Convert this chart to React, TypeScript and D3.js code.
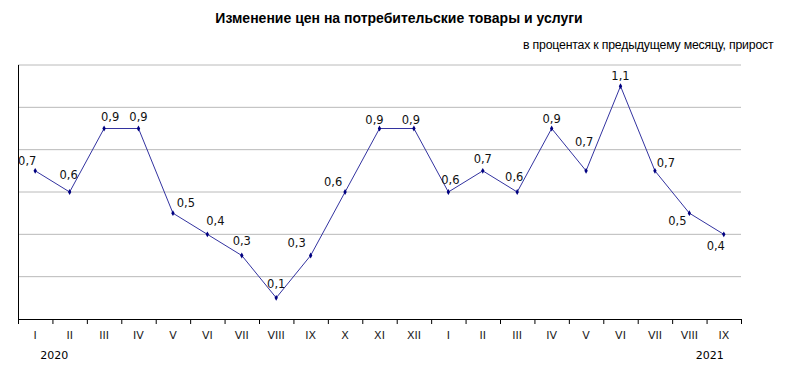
import React from 'react';
import * as d3 from 'd3';

const months = ['I', 'II', 'III', 'IV', 'V', 'VI', 'VII', 'VIII', 'IX', 'X', 'XI', 'XII',
  'I', 'II', 'III', 'IV', 'V', 'VI', 'VII', 'VIII', 'IX'];
const values = [0.7, 0.6, 0.9, 0.9, 0.5, 0.4, 0.3, 0.1, 0.3, 0.6, 0.9, 0.9,
  0.6, 0.7, 0.6, 0.9, 0.7, 1.1, 0.7, 0.5, 0.4];
const years = [{ label: '2020', at: 0 }, { label: '2021', at: 20 }];
const yTicks = [0, 0.2, 0.4, 0.6, 0.8, 1.0, 1.2];

// label offsets from the point (dx, dy), Excel put them by hand
const labelOffsets: [number, number][] = [
  [-8, -9], [-1, -17], [6, -11], [0, -11], [13, -10], [8, -13], [0, -14], [0, -13],
  [-14, -12], [-12, -10], [-5, -8], [-3, -8], [2, -12], [0, -11], [-3, -15], [0, -9],
  [-2, -28], [0, -10], [11, -7], [-12, 8], [-8, 12],
];

const W = 786;
const H = 367;
const margin = { left: 18, right: 45, top: 65, bottom: 48 };

export default function App() {
  const x = d3.scaleBand<number>()
    .domain(months.map((_, i) => i))
    .range([margin.left, W - margin.right]);
  const y = d3.scaleLinear().domain([0, 1.2]).range([H - margin.bottom, margin.top]);

  const cx = (i: number) => (x(i) ?? 0) + x.bandwidth() / 2;
  const line = d3.line<number>().x((_, i) => cx(i)).y(d => y(d));
  const fmt = (v: number) => d3.format('.1f')(v).replace('.', ',');

  const font = 'Tahoma, "DejaVu Sans", Verdana, sans-serif';
  const x0 = margin.left;
  const x1 = W - margin.right;
  const yb = y(0);

  return (
    <div style={{ position: 'absolute', left: 0, top: 0 }}>
      <svg width={W} height={H} style={{ display: 'block', background: '#fff' }}>
        <text x={399} y={23} textAnchor="middle" fontFamily='"Liberation Sans", Arial, sans-serif'
          fontWeight="bold" fontSize={14} fill="#000">
          Изменение цен на потребительские товары и услуги
        </text>
        <text x={523} y={49} fontFamily='"Liberation Sans", Arial, sans-serif'
          fontSize={12.3} letterSpacing={-0.2} fill="#000">
          в процентах к предыдущему месяцу, прирост
        </text>

        {yTicks.filter(t => t > 0).map(t => (
          <line key={t} x1={x0} x2={x1} y1={y(t)} y2={y(t)} stroke="#bababa" strokeWidth={1} />
        ))}

        <line x1={x0 + 0.5} x2={x0 + 0.5} y1={y(1.2)} y2={yb} stroke="#000" />
        <line x1={x0} x2={x1 + 0.5} y1={yb + 0.5} y2={yb + 0.5} stroke="#000" />
        {d3.range(months.length + 1).map(i => {
          const tx = i < months.length ? (x(i) ?? 0) : x1;
          return <line key={i} x1={tx + 0.5} x2={tx + 0.5} y1={yb} y2={yb + 5} stroke="#000" />;
        })}

        {months.map((m, i) => (
          <text key={i} x={cx(i)} y={yb + 20} textAnchor="middle" fontFamily={font}
            fontSize={11} fill="#222">{m}</text>
        ))}
        {years.map(yr => (
          <text key={yr.label} x={cx(yr.at) + (yr.at === 0 ? 19 : -14)} y={yb + 40} textAnchor="middle"
            fontFamily={font} fontSize={11} fill="#000">{yr.label}</text>
        ))}

        <path d={line(values) ?? ''} fill="none" stroke="#3333a0" strokeWidth={1} />
        {values.map((v, i) => (
          <path key={i} d={d3.symbol(d3.symbolDiamond, 10)() ?? ''}
            transform={`translate(${cx(i)},${y(v)})`} fill="#000080" />
        ))}
        {values.map((v, i) => (
          <text key={i} x={cx(i) + labelOffsets[i][0]} y={y(v) + labelOffsets[i][1]}
            textAnchor="middle" dominantBaseline="middle" fontFamily={font} fontSize={11.5}
            fill="#111">{fmt(v)}</text>
        ))}
      </svg>
    </div>
  );
}
